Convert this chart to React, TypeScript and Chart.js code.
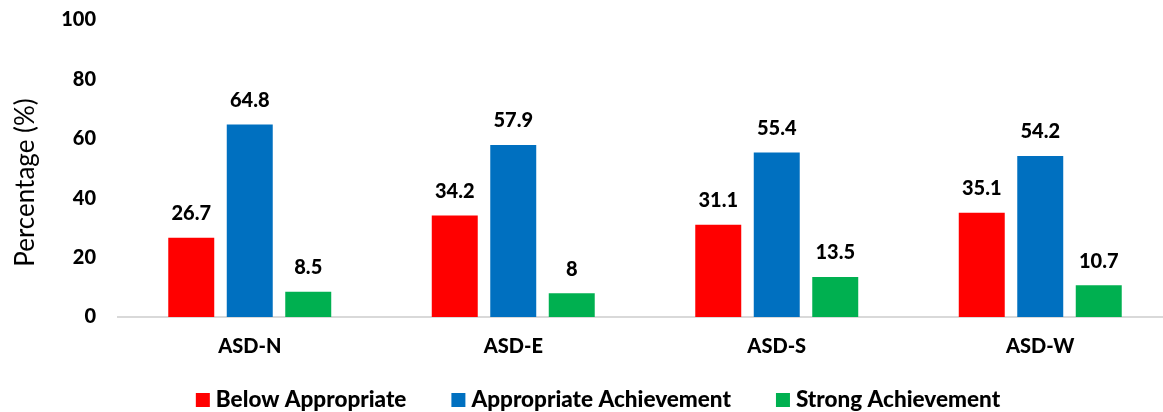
import React, { useEffect, useRef } from "react";
import { Chart, registerables } from "chart.js";

Chart.register(...registerables);

const categories = ["ASD-N", "ASD-E", "ASD-S", "ASD-W"];
const seriesNames = ["Below Appropriate", "Appropriate Achievement", "Strong Achievement"];
const belowAppropriate = [26.7, 34.2, 31.1, 35.1];
const appropriateAchievement = [64.8, 57.9, 55.4, 54.2];
const strongAchievement = [8.5, 8, 13.5, 10.7];
const seriesColors = ["#FF0000", "#0070C0", "#00B050"];
const yMin = 0;
const yMax = 100;
const yStep = 20;
const yTitle = "Percentage (%)";

const FONT = "Lato, 'Open Sans', sans-serif";
const HEAVY = 900;

const valueLabels = {
  id: "valueLabels",
  afterDatasetsDraw(chart: any) {
    const ctx = chart.ctx;
    ctx.save();
    ctx.font = `${HEAVY} 20px ${FONT}`;
    ctx.fillStyle = "#000";
    ctx.textAlign = "center";
    ctx.textBaseline = "middle";
    chart.data.datasets.forEach((ds: any, i: number) => {
      chart.getDatasetMeta(i).data.forEach((bar: any, j: number) => {
        ctx.fillText(String(ds.data[j]), bar.x, bar.y - 24);
      });
    });
    ctx.restore();
  },
};

const yTitlePlugin = {
  id: "yTitlePlugin",
  afterDraw(chart: any) {
    const ctx = chart.ctx;
    const { top, bottom } = chart.chartArea;
    ctx.save();
    ctx.translate(26, (top + bottom) / 2 + 14);
    ctx.rotate(-Math.PI / 2);
    ctx.font = `26px ${FONT}`;
    ctx.fillStyle = "#000";
    ctx.textAlign = "center";
    ctx.textBaseline = "middle";
    ctx.fillText(yTitle, 0, 0);
    ctx.restore();
  },
};

const legendPlugin = {
  id: "customLegend",
  afterDraw(chart: any) {
    const ctx = chart.ctx;
    ctx.save();
    ctx.font = `${HEAVY} 22.5px ${FONT}`;
    ctx.textBaseline = "middle";
    ctx.textAlign = "left";
    const box = 14;
    const boxGap = 6;
    const itemGap = 45;
    const items = chart.data.datasets.map((ds: any) => ({
      text: ds.label,
      color: ds.backgroundColor,
      w: ctx.measureText(ds.label).width,
    }));
    const total =
      items.reduce((s: number, it: any) => s + box + boxGap + it.w, 0) +
      itemGap * (items.length - 1);
    let x = chart.width / 2 - total / 2;
    const y = chart.height - 12;
    items.forEach((it: any) => {
      ctx.fillStyle = it.color;
      ctx.fillRect(x, y - box / 2, box, box);
      x += box + boxGap;
      ctx.fillStyle = "#000";
      ctx.fillText(it.text, x, y);
      x += it.w + itemGap;
    });
    ctx.restore();
  },
};

export default function App() {
  const canvasRef = useRef<HTMLCanvasElement | null>(null);

  useEffect(() => {
    if (!canvasRef.current) return;
    const seriesData = [belowAppropriate, appropriateAchievement, strongAchievement];
    const chart = new Chart(canvasRef.current, {
      type: "bar",
      data: {
        labels: categories,
        datasets: seriesNames.map((name, i) => ({
          label: name,
          data: seriesData[i],
          backgroundColor: seriesColors[i],
          borderWidth: 0,
          categoryPercentage: 0.666,
          barPercentage: 0.786,
        })),
      },
      options: {
        responsive: false,
        animation: false,
        layout: { padding: { top: 20, right: 24, bottom: 35, left: 0 } },
        plugins: {
          legend: { display: false },
          tooltip: { enabled: false },
        },
        scales: {
          x: {
            grid: { display: false, drawTicks: false },
            border: { display: true, color: "#D9D9D9", width: 2 },
            ticks: {
              font: { family: FONT, size: 20, weight: HEAVY as any },
              color: "#000",
              padding: 18,
            },
          },
          y: {
            min: yMin,
            max: yMax,
            grid: { display: false, drawTicks: false },
            border: { display: false },
            ticks: {
              stepSize: yStep,
              font: { family: FONT, size: 20, weight: HEAVY as any },
              color: "#000",
              padding: 22,
            },
            afterFit(scale: any) {
              scale.width = 118;
              scale.paddingTop = 0;
              scale.paddingBottom = 0;
            },
          },
        },
      },
      plugins: [valueLabels, yTitlePlugin, legendPlugin],
    });
    return () => chart.destroy();
  }, []);

  return (
    <div
      style={{
        position: "fixed",
        left: 0,
        top: 0,
        width: 1163,
        height: 412,
        overflow: "hidden",
        background: "#fff",
      }}
    >
      <canvas ref={canvasRef} width={1196} height={412} style={{ display: "block" }} />
    </div>
  );
}
